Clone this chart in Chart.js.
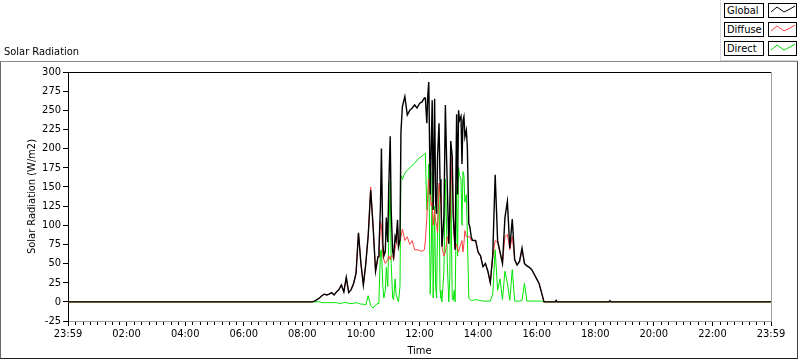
<!DOCTYPE html>
<html lang="en">
<head>
<meta charset="UTF-8">
<title>Solar Radiation</title>
<script src="https://cdn.jsdelivr.net/npm/chart.js"></script>
<style>
  body { margin: 0; background: #fff; font-family: 'DejaVu Sans Condensed', 'Liberation Sans', sans-serif; font-size: 11px; color: #000; }
  #wrap { position: relative; width: 800px; height: 361px; overflow: hidden; }
  #frame { position: absolute; left: 0; top: 61px; width: 798px; height: 298px; box-sizing: border-box;
           border-top: 1px solid #8a8a8a; border-left: 1px solid #6a6a6a; border-right: 1px solid #404040; border-bottom: 1px solid #202020; }
  #title { position: absolute; left: 4px; top: 45px; line-height: 13px; }
  #legendPanel { position: absolute; left: 720px; top: 0; width: 78px; height: 61px; box-sizing: border-box;
                 border-left: 1px solid #d8d8d8; border-bottom: 1px solid #d8d8d8; background: #fff; }
  .lbl { position: absolute; left: 3px; width: 40px; height: 15px; box-sizing: border-box; border: 1px solid #000;
         padding-left: 2px; line-height: 13px; }
  .smp { position: absolute; left: 47px; width: 29px; height: 15px; box-sizing: border-box; border: 1px solid #000; }
  canvas { position: absolute; left: 0; top: 0; }
</style>
</head>
<body>
<div id="wrap">
  <div id="frame"></div>
  <canvas id="solarChart" width="800" height="361"></canvas>
  <div id="title">Solar Radiation</div>
  <div id="legendPanel"></div>
</div>

<script>
  // sample times (HH:MM) and readings in W/m2
  const times = [
    '00:00', '08:20', '08:25', '08:30', '08:35', '08:40', '08:45', '08:50', '08:55',
    '09:00', '09:05', '09:10', '09:15', '09:20', '09:25', '09:30', '09:35', '09:40', '09:45', '09:50', '09:55',
    '10:00', '10:05', '10:10', '10:15', '10:20', '10:25', '10:30',
    '10:35', '10:37', '10:40', '10:42', '10:45', '10:47', '10:50', '10:52', '10:55', '10:57',
    '11:00', '11:02', '11:05', '11:07', '11:10', '11:12', '11:15', '11:17', '11:20', '11:22',
    '11:25', '11:30', '11:35', '11:40', '11:45', '11:50', '11:55', '12:00', '12:05', '12:10',
    '12:12', '12:15', '12:17', '12:19', '12:22', '12:24', '12:26', '12:28', '12:31', '12:33', '12:35',
    '12:37', '12:40', '12:42', '12:44', '12:46', '12:48', '12:50', '12:53', '12:55', '12:57',
    '13:00', '13:02', '13:04', '13:07', '13:09', '13:11', '13:13', '13:16', '13:18', '13:20', '13:22',
    '13:25', '13:27', '13:29', '13:31', '13:33', '13:36', '13:38', '13:41', '13:43', '13:46', '13:48', '13:50',
    '13:55', '14:00', '14:05', '14:10', '14:15', '14:20', '14:25', '14:30', '14:35', '14:40', '14:45', '14:50', '14:55',
    '15:00', '15:05', '15:10', '15:15', '15:20', '15:25', '15:30', '15:35', '15:40', '15:45', '15:50', '15:55',
    '16:00', '16:05', '16:10', '16:15', '16:38', '16:40', '16:42', '18:28', '18:30', '18:32', '24:00'
  ];

  const globalRad = [
    0, 0, 1, 3, 5, 8, 10, 9, 10,
    12, 9, 13, 16, 22, 13, 32, 12, 16, 24, 37, 90,
    50, 22, 50, 87, 146, 98, 40,
    59, 70, 124, 200, 75, 60, 66, 110, 78, 150,
    216, 120, 66, 59, 85, 80, 107, 72, 81, 222,
    255, 268, 244, 250, 253, 257, 253, 259, 261, 266,
    266, 233, 270, 287, 140, 200, 263, 120, 265, 130, 115,
    190, 233, 160, 135, 72, 90, 111, 257, 200, 150,
    76, 120, 210, 190, 115, 90, 68, 245, 140, 250, 237,
    242, 180, 237, 242, 215, 224, 202, 102, 98, 85, 81, 80,
    80, 65, 60, 46, 50, 40, 25, 60, 166, 80, 65, 50, 110,
    131, 70, 108, 55, 48, 53, 70, 50, 47, 45, 42, 36,
    30, 24, 12, 0, 0, 2, 0, 0, 1.5, 0, 0
  ];

  const diffuseRad = [
    0, 0, 1, 3, 5, 8, 10, 9, 10,
    12, 9, 13, 16, 22, 13, 32, 12, 16, 24, 37, 90,
    50, 22, 50, 87, 150, 98, 40,
    59, 60, 105, 100, 60, 55, 50, 52, 55, 60,
    55, 60, 60, 55, 70, 75, 100, 72, 81, 85,
    95, 80, 85, 75, 80, 68, 68, 67, 66, 68,
    80, 110, 137, 160, 140, 125, 130, 100, 120, 105, 100,
    90, 155, 140, 130, 72, 65, 60, 65, 75, 85,
    76, 100, 140, 190, 115, 85, 68, 75, 70, 65, 70,
    76, 80, 65, 76, 93, 85, 85, 85, 85, 80, 80, 80,
    80, 65, 60, 46, 50, 40, 25, 58, 80, 78, 64, 50, 85,
    88, 68, 85, 55, 48, 53, 68, 50, 47, 45, 42, 36,
    30, 24, 12, 0, 0, 0, 0, 0, 0, 0, 0
  ];

  const directRad = [
    0, 0, 0, 0, 0, -1, -1, -1, -1,
    -1, -1, -1, -2, -2, -1, -1, -2, -2, -2, -1, -2,
    -3, -3, -4, 8, -5, -8, -4,
    -2, 5, 65, 68, 20, 5, 15, 45, 20, 85,
    157, 50, 5, 3, 30, 10, 3, 0, 20, 165,
    160, 168, 172, 175, 178, 181, 185, 188, 190, 193,
    194, 120, 130, 180, 10, 60, 170, 5, 125, 20, 5,
    100, 150, 15, 5, 0, 20, 40, 160, 110, 50,
    0, 30, 170, 5, 2, 15, 0, 150, 60, 176, 165,
    160, 100, 170, 165, 130, 140, 90, 5, 3, 2, 2, 2,
    3, 2, 2, 1, 1, 1, 1, 10, 68, 15, 30, 3, 40,
    25, 2, 42, 1, 1, 1, 2, 24, 1, 1, 1, 1,
    1, 1, 1, 0, 0, 0, 0, 0, 0, 0, 0
  ];

  const hourLabels = ['23:59', '02:00', '04:00', '06:00', '08:00', '10:00', '12:00',
                      '14:00', '16:00', '18:00', '20:00', '22:00', '23:59'];

  const seriesNames = ['Global', 'Diffuse', 'Direct'];
  const seriesColors = ['#000000', '#ff4040', '#00e400'];

  const toHours = s => { const [h, m] = s.split(':').map(Number); return h + m / 60; };
  const xs = times.map(toHours);
  const pts = arr => arr.map((v, i) => ({ x: xs[i], y: v }));

  // legend boxes
  const panel = document.getElementById('legendPanel');
  seriesNames.forEach((name, i) => {
    const top = 3 + i * 19;
    const lbl = document.createElement('div');
    lbl.className = 'lbl';
    lbl.style.top = top + 'px';
    lbl.textContent = name;
    panel.appendChild(lbl);
    const smp = document.createElement('div');
    smp.className = 'smp';
    smp.style.top = top + 'px';
    smp.innerHTML = '<svg width="27" height="13"><polyline points="2,8 8,3 15,8 21,5 26,2" fill="none" stroke="' +
      seriesColors[i] + '" stroke-width="1"/></svg>';
    panel.appendChild(smp);
  });

  const fontFamily = "'DejaVu Sans Condensed', 'Liberation Sans', sans-serif";
  Chart.defaults.font.family = fontFamily;
  Chart.defaults.font.size = 11;
  Chart.defaults.color = '#000';

  // frame lines + 15 minute minor ticks
  const plotFrame = {
    id: 'plotFrame',
    afterDraw(chart) {
      const { ctx, chartArea: a, scales } = chart;
      ctx.save();
      ctx.lineWidth = 1;
      ctx.strokeStyle = '#000';
      ctx.beginPath();
      ctx.moveTo(a.left, a.top + 0.5);
      ctx.lineTo(a.right, a.top + 0.5);
      ctx.stroke();
      ctx.strokeStyle = '#a0a0a0';
      ctx.beginPath();
      ctx.moveTo(a.right + 0.5, a.top);
      ctx.lineTo(a.right + 0.5, a.bottom);
      ctx.stroke();
      ctx.strokeStyle = '#000';
      ctx.beginPath();
      for (let q = 1; q < 96; q++) {
        if (q % 8 === 0) continue;
        const x = Math.round(scales.x.getPixelForValue(q / 4)) + 0.5;
        ctx.moveTo(x, a.bottom + 1);
        ctx.lineTo(x, a.bottom + 4);
      }
      ctx.stroke();
      ctx.restore();
    }
  };

  new Chart(document.getElementById('solarChart'), {
    type: 'line',
    data: {
      datasets: [
        { label: seriesNames[0], data: pts(globalRad), borderColor: seriesColors[0], borderWidth: 1.4 },
        { label: seriesNames[1], data: pts(diffuseRad), borderColor: seriesColors[1], borderWidth: 1 },
        { label: seriesNames[2], data: pts(directRad), borderColor: seriesColors[2], borderWidth: 1 }
      ]
    },
    options: {
      responsive: false,
      animation: false,
      devicePixelRatio: 1,
      parsing: false,
      elements: { point: { radius: 0 }, line: { tension: 0, fill: false } },
      layout: { padding: { left: 20, top: 72, right: 29, bottom: 0 } },
      plugins: { legend: { display: false }, tooltip: { enabled: false } },
      scales: {
        x: {
          type: 'linear',
          min: 0, max: 24,
          afterFit: s => { s.height = 40; },
          grid: { drawOnChartArea: false, tickLength: 5, tickColor: '#000' },
          border: { color: '#a0a0a0' },
          ticks: { stepSize: 2, padding: 2, maxRotation: 0, autoSkip: false,
                   callback: v => hourLabels[Math.round(v / 2)] },
          title: { display: true, text: 'Time', padding: { top: 0, bottom: 3 } }
        },
        y: {
          min: -25, max: 300,
          afterFit: s => { s.width = 48; },
          grid: { drawOnChartArea: false, tickLength: 5, tickColor: '#000' },
          border: { color: '#000' },
          ticks: { stepSize: 25, padding: 2 },
          title: { display: true, text: 'Solar Radiation (W/m2)', padding: { top: 6, bottom: 0 } }
        }
      }
    },
    plugins: [plotFrame]
  });
</script>
</body>
</html>
